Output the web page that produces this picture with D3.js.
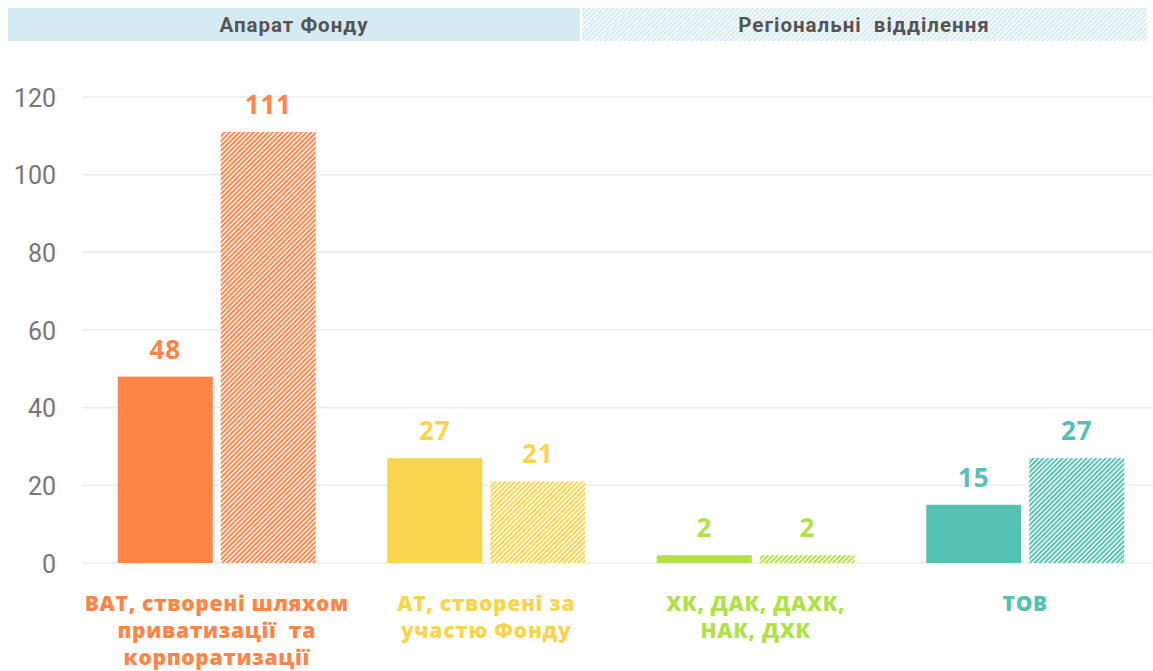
<!DOCTYPE html>
<html>
<head>
<meta charset="utf-8">
<script src="https://cdn.jsdelivr.net/npm/d3@7"></script>
<style>
  body { margin: 0; background: #fff; }
  svg { display: block; }
</style>
</head>
<body>
<svg id="svg"></svg>
<script>
// data
var categories = [
    ["ВАТ, створені шляхом", "приватизації  та", "корпоратизації"],
    ["АТ, створені за", "участю Фонду"],
    ["ХК, ДАК, ДАХК,", "НАК, ДХК"],
    ["ТОВ"]
];
var centralValues = [48, 27, 2, 15];   // Апарат Фонду
var regionalValues = [111, 21, 2, 27]; // Регіональні відділення
var colors = ["#FF8549", "#F8D54F", "#B2E04B", "#55C2B1"];
var yTicks = [0, 20, 40, 60, 80, 100, 120];
var headers = ["Апарат Фонду", "Регіональні  відділення"];

var width = 1153, height = 671;
var svg = d3.select("#svg").attr("width", width).attr("height", height);
var defs = svg.append("defs");

function addHatch(id, color, bg) {
    var p = defs.append("pattern")
        .attr("id", id)
        .attr("patternUnits", "userSpaceOnUse")
        .attr("width", 3.4).attr("height", 5)
        .attr("patternTransform", "rotate(45)");
    if (bg) p.append("rect").attr("width", 3.4).attr("height", 5).attr("fill", bg);
    p.append("rect").attr("x", 0).attr("y", 0).attr("width", 2.0).attr("height", 5).attr("fill", color);
}
for (var i = 0; i < colors.length; ++i) {
    addHatch("hatch" + i, colors[i], "#fff");
}
addHatch("hatchHead", "#D6EAF3", "#fff");

// header bands
svg.append("rect").attr("x", 8).attr("y", 8).attr("width", 572).attr("height", 33).attr("fill", "#D6EAF3");
svg.append("rect").attr("x", 582).attr("y", 8).attr("width", 565).attr("height", 33).attr("fill", "url(#hatchHead)");
svg.selectAll("text.head")
    .data(headers)
    .enter().append("text")
    .attr("class", "head")
    .attr("x", function(d, i) { return i === 0 ? 294 : 864; })
    .attr("y", 32)
    .attr("text-anchor", "middle")
    .attr("font-family", "Roboto")
    .attr("font-weight", "bold")
    .attr("font-size", 20.5)
    .attr("letter-spacing", 1)
    .attr("fill", "#555")
    .attr("xml:space", "preserve")
    .style("white-space", "pre")
    .text(function(d) { return d; });

// scales
var y = d3.scaleLinear().domain([0, 120]).range([563, 97]);
var x = d3.scaleBand().domain(d3.range(categories.length)).range([82, 1160]).paddingInner(0).paddingOuter(0);
var barW = 95, gap = 8;

// grid
svg.append("g").selectAll("line")
    .data(yTicks)
    .enter().append("line")
    .attr("x1", 82).attr("x2", 1153)
    .attr("y1", function(d) { return y(d); })
    .attr("y2", function(d) { return y(d); })
    .attr("stroke", "#EBEBEB")
    .attr("stroke-width", 1.5);

var yAxis = svg.append("g")
    .attr("transform", "translate(56,0)")
    .call(d3.axisLeft(y).tickValues(yTicks).tickSize(0).tickPadding(0));
yAxis.select(".domain").remove();
yAxis.selectAll("text")
    .attr("font-family", "Roboto")
    .attr("font-size", 25)
    .attr("fill", "#777")
    .attr("dy", "0.36em");

// bars
var groups = svg.append("g").selectAll("g")
    .data(categories)
    .enter().append("g");

function cx(i) { return x(i) + x.bandwidth() / 2; }

groups.append("rect")
    .attr("x", function(d, i) { return cx(i) - gap / 2 - barW; })
    .attr("y", function(d, i) { return y(centralValues[i]); })
    .attr("width", barW)
    .attr("height", function(d, i) { return y(0) - y(centralValues[i]); })
    .attr("fill", function(d, i) { return colors[i]; });

groups.append("rect")
    .attr("x", function(d, i) { return cx(i) + gap / 2; })
    .attr("y", function(d, i) { return y(regionalValues[i]); })
    .attr("width", barW)
    .attr("height", function(d, i) { return y(0) - y(regionalValues[i]); })
    .attr("fill", function(d, i) { return "url(#hatch" + i + ")"; });

// value labels
function valueLabel(sel, vals, side) {
    sel.append("text")
        .attr("x", function(d, i) { return cx(i) + side * (gap / 2 + barW / 2); })
        .attr("y", function(d, i) { return y(vals[i]) - 18; })
        .attr("text-anchor", "middle")
        .attr("font-family", "Open Sans")
        .attr("font-weight", 700)
        .attr("font-size", 26)
        .attr("letter-spacing", 0.8)
        .attr("fill", function(d, i) { return colors[i]; })
        .text(function(d, i) { return vals[i]; });
}
valueLabel(groups, centralValues, -1);
valueLabel(groups, regionalValues, 1);

// category labels
groups.append("text")
    .attr("text-anchor", "middle")
    .attr("font-family", "Open Sans")
    .attr("font-weight", 800)
    .attr("font-size", 21)
    .attr("letter-spacing", 0.7)
    .attr("fill", function(d, i) { return colors[i]; })
    .attr("xml:space", "preserve")
    .each(function(d, i) {
        var t = d3.select(this);
        d.forEach(function(line, j) {
            t.append("tspan")
                .attr("x", cx(i))
                .attr("y", 611 + j * 27)
                .text(line);
        });
    });
</script>
</body>
</html>
